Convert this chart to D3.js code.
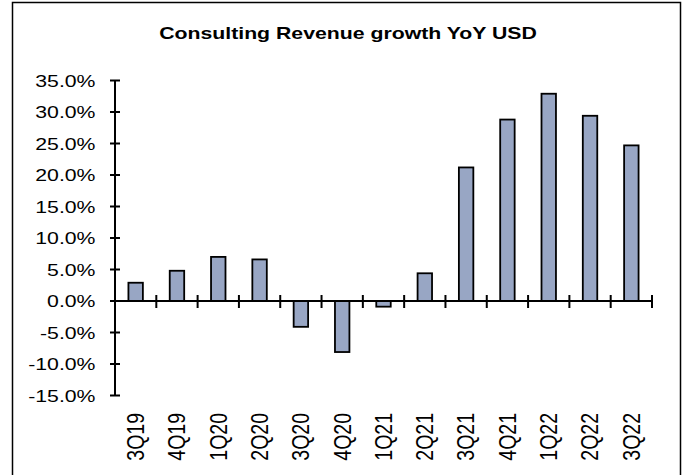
<!DOCTYPE html>
<html>
<head>
<meta charset="utf-8">
<script src="https://cdn.jsdelivr.net/npm/d3@7"></script>
<style>
  html, body { margin: 0; padding: 0; background: #fff; }
  svg { display: block; }
  text { font-family: "Liberation Sans", Arial, sans-serif; fill: #000; }
</style>
</head>
<body>
<svg id="chart" width="684" height="475"></svg>
<script>
// Quarterly consulting revenue growth, year over year, in USD (%)
const quarters = ["3Q19","4Q19","1Q20","2Q20","3Q20","4Q20","1Q21","2Q21","3Q21","4Q21","1Q22","2Q22","3Q22"];
const growth = [2.9, 4.8, 7.0, 6.6, -4.1, -8.1, -0.9, 4.4, 21.2, 28.8, 32.9, 29.4, 24.7];
const yTicks = [35, 30, 25, 20, 15, 10, 5, 0, -5, -10, -15];
const title = "Consulting Revenue growth YoY USD";

const svg = d3.select("#chart");
const W = 684, H = 475;
const sx = 1.25; // horizontal stretch applied to the text

// frame
svg.append("rect")
  .attr("x", 12.5).attr("y", 2.5)
  .attr("width", 668).attr("height", H + 10)
  .attr("fill", "#fff").attr("stroke", "#000").attr("stroke-width", 1.5);

const plot = { left: 115, right: 652, top: 80.5, bottom: 395.5 };

const x = d3.scaleBand().domain(quarters).range([plot.left, plot.right]).padding(0);
const y = d3.scaleLinear().domain([-15, 35]).range([plot.bottom, plot.top]);

// percent label with a plain hyphen for negatives
const fmt = d => (d < 0 ? "-" : "") + Math.abs(d).toFixed(1) + "%";

// title
svg.append("text")
  .attr("transform", `translate(348,39) scale(${sx},1)`)
  .attr("text-anchor", "middle")
  .attr("font-size", 17).attr("font-weight", "bold")
  .text(title);

// bars
const bw = x.bandwidth() * 0.35;
svg.append("g").selectAll("rect")
  .data(quarters.map((q, i) => ({ q, v: growth[i] })))
  .join("rect")
  .attr("x", d => x(d.q) + (x.bandwidth() - bw) / 2)
  .attr("y", d => y(Math.max(0, d.v)))
  .attr("width", bw)
  .attr("height", d => Math.abs(y(d.v) - y(0)))
  .attr("fill", "#98A6C4")
  .attr("stroke", "#000")
  .attr("stroke-width", 1.8);

// y axis: crossing ticks
const yAxis = svg.append("g");
yAxis.append("line")
  .attr("x1", plot.left).attr("x2", plot.left)
  .attr("y1", y(35)).attr("y2", y(-15))
  .attr("stroke", "#000").attr("stroke-width", 2);
yAxis.selectAll("line.tick").data(yTicks).join("line")
  .attr("class", "tick")
  .attr("x1", plot.left - 5).attr("x2", plot.left + 5)
  .attr("y1", d => y(d)).attr("y2", d => y(d))
  .attr("stroke", "#000").attr("stroke-width", 2);
yAxis.selectAll("text").data(yTicks).join("text")
  .attr("transform", d => `translate(95.5,${y(d)}) scale(${sx},1)`)
  .attr("dy", "0.36em")
  .attr("text-anchor", "end")
  .attr("font-size", 17)
  .text(fmt);

// x axis along zero with crossing ticks at band edges
const xAxis = svg.append("g");
xAxis.append("line")
  .attr("x1", plot.left).attr("x2", plot.right)
  .attr("y1", y(0)).attr("y2", y(0))
  .attr("stroke", "#000").attr("stroke-width", 2);
const edges = quarters.map(q => x(q) + x.bandwidth());
xAxis.selectAll("line.tick").data(edges).join("line")
  .attr("class", "tick")
  .attr("x1", d => d).attr("x2", d => d)
  .attr("y1", y(0) - 6).attr("y2", y(0) + 7)
  .attr("stroke", "#000").attr("stroke-width", 2);
xAxis.selectAll("text").data(quarters).join("text")
  .attr("transform", d => `translate(${x(d) + x.bandwidth() / 2},413) scale(1.19,1) rotate(-90)`)
  .attr("dy", "0.36em")
  .attr("text-anchor", "end")
  .attr("font-size", 19.5)
  .text(d => d);
</script>
</body>
</html>
